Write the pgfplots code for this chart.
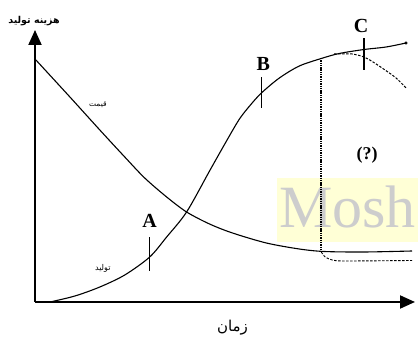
\documentclass[border=0pt]{standalone}
\usepackage{fontspec}
\setmainfont{Liberation Serif}
\newfontfamily\fa[Script=Arabic]{DejaVu Sans}
\usepackage{pgfplots}
\pgfplotsset{compat=1.18}
\usetikzlibrary{arrows.meta}
\TeXXeTstate=1
\definecolor{wmyellow}{RGB}{255,255,214}
\definecolor{wmgray}{RGB}{205,205,205}
\begin{document}
\begin{tikzpicture}
\useasboundingbox (-35pt,-37pt) rectangle (383pt,302pt);
% faint watermark
\fill[wmyellow] (242pt,60pt) rectangle (383pt,124pt);
\node[anchor=base east, text=wmgray, font=\fontsize{60}{60}\selectfont, inner sep=0] at (381pt,74pt) {Mosh};
\begin{axis}[
  scale only axis, width=380pt, height=272pt,
  xmin=0, xmax=381, ymin=0, ymax=272,
  axis lines=left,
  axis line style={line width=2pt, -{Triangle[length=15pt,width=13pt]}},
  xtick=\empty, ytick=\empty, clip=false,
]
% price curve
\addplot[line width=1.1pt, smooth] coordinates {
 (0,243) (35,205) (65,172) (90,145) (110,124) (132,105) (152,90) (175,78) (198,69) (232,59) (265,53) (290,50.5) (330,50) (378,51)};
% production curve (sigmoid)
\addplot[line width=1.1pt, smooth] coordinates {
 (15,0) (40,6) (65,15) (90,27) (115,45) (132,65) (152,90) (175,131) (192,161) (205,183) (216,197) (227,209) (245,224) (265,236) (287,243.5) (305,248.5) (330,252.5) (352,255) (372,259)};
\addplot[only marks, mark=*, mark size=1.4pt] coordinates {(372,259)};
% dashed downturn
\addplot[line width=1pt, dash pattern=on 2.5pt off 1.5pt, smooth] coordinates {
 (300,248) (318,248) (332,244) (348,234) (362,224) (372,214)};
% vertical dotted line
\addplot[line width=1.7pt, dash pattern=on 1.4pt off 0.9pt] coordinates {(287,244) (287,50)};
% lower dotted branch
\addplot[line width=0.9pt, dash pattern=on 2.5pt off 1.5pt, smooth, tension=0.4] coordinates {
 (287,50) (291,45) (298,42) (310,41) (378,41.5)};
% tick marks
\addplot[line width=0.9pt] coordinates {(115,31) (115,65)};
\addplot[line width=0.9pt] coordinates {(227,194) (227,225)};
\addplot[line width=1.6pt] coordinates {(330,232) (330,264)};
% letters
\node[font=\fontsize{20}{20}\selectfont\bfseries] at (axis cs:115,81) {A};
\node[font=\fontsize{20}{20}\selectfont\bfseries] at (axis cs:229,238) {B};
\node[font=\fontsize{20}{20}\selectfont\bfseries] at (axis cs:327,276) {C};
\node[font=\fontsize{18}{18}\selectfont\bfseries] at (axis cs:333,147) {(?)};
% Persian labels
\node[font=\fa\bfseries\fontsize{9.5}{11}\selectfont] at (axis cs:-1,281) {\beginR هزینه تولید\endR};
\node[font=\fa\fontsize{7.5}{9}\selectfont] at (axis cs:63,197) {\beginR قیمت\endR};
\node[font=\fa\fontsize{8}{9}\selectfont] at (axis cs:68,34) {\beginR تولید\endR};
\node[font=\fa\fontsize{15}{17}\selectfont] at (axis cs:198,-26) {\beginR زمان\endR};
\end{axis}
\end{tikzpicture}
\end{document}
